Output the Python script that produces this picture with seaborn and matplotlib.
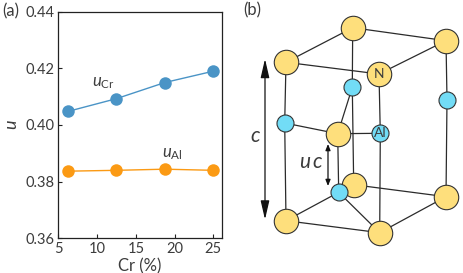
import matplotlib
matplotlib.use("Agg")
import matplotlib.pyplot as plt
import seaborn as sns
import pandas as pd

sns.set_theme(style="ticks")
FONT = 'Lato'
plt.rcParams['font.family'] = [FONT, 'DejaVu Sans']
plt.rcParams['mathtext.fontset'] = 'custom'
plt.rcParams['mathtext.it'] = f'{FONT}:italic'
plt.rcParams['mathtext.rm'] = FONT

W, H = 463, 273
TXT = '#3c3c3c'

cr = [6.25, 12.5, 18.75, 25]
u_cr = [0.4048, 0.4093, 0.4150, 0.4190]
u_al = [0.3837, 0.3840, 0.3844, 0.3840]
xticks = [5, 10, 15, 20, 25]
yticks = [0.36, 0.38, 0.40, 0.42, 0.44]

# Schematic atoms and bonds (image pixel space of the crystal panel)
n_x = [352.7, 446, 286, 379, 337.7, 353.7, 446, 286, 379.7]
n_y = [27.7, 40.7, 62.3, 74, 133.7, 184.7, 196.7, 220.7, 232.7]
al_x = [352.3, 447, 284.7, 380.3, 338.7]
al_y = [87.3, 99.7, 123, 133.3, 192.3]
bonds = [(0, 1), (0, 2), (2, 3), (1, 3), (5, 6), (7, 8), (6, 8)]
verticals = [((352.7,27.7),(352.3,87.3)),((352.3,87.3),(353.7,184.7)),
             ((446,40.7),(447,99.7)),((447,99.7),(446,196.7)),
             ((286,62.3),(284.7,123)),((284.7,123),(286,220.7)),
             ((379,74),(380.3,133.3)),((380.3,133.3),(379.7,232.7)),
             ((352.3,87.3),(337.7,133.7)),((284.7,123),(337.7,133.7)),
             ((337.7,133.7),(380.3,133.3)),((337.7,133.7),(338.7,192.3)),
             ((338.7,192.3),(286,220.7)),((338.7,192.3),(379.7,232.7))]

fig = plt.figure(figsize=(W/100, H/100), dpi=100, facecolor='white')

# Panel (a)
ax = fig.add_axes([58.3/W, 1-238.3/H, (221.7-58.3)/W, (238.3-11.7)/H])
df = pd.concat([pd.DataFrame({'Cr': cr, 'u': u_cr, 's': 'Cr'}),
                pd.DataFrame({'Cr': cr, 'u': u_al, 's': 'Al'})])
sns.lineplot(data=df, x='Cr', y='u', hue='s', hue_order=['Cr', 'Al'],
             palette=['#4a94c6', '#fb9a14'], marker='o', markersize=9,
             markeredgewidth=0, linewidth=1.0, legend=False, ax=ax)
ax.set_xlim(5, 26.08)
ax.set_ylim(0.36, 0.44)
ax.set_xticks(xticks)
ax.set_yticks(yticks)
ax.set_yticklabels([f'{v:.2f}' for v in yticks])
ax.tick_params(direction='in', length=3, width=0.8, labelsize=10.5, pad=3)
ax.tick_params(axis='x', colors='#222222', labelcolor=TXT)
ax.tick_params(axis='y', colors='#222222', labelcolor=TXT)
for s in ['left', 'bottom', 'top', 'right']:
    ax.spines[s].set_linewidth(0.9)
    ax.spines[s].set_color('#222222')
ax.set_xlabel('Cr (%)', fontsize=12, color=TXT, labelpad=1)
ax.set_ylabel('$u$', fontsize=13, color=TXT)
ax.yaxis.set_label_coords((20-58.3)/(221.7-58.3), 0.5)
ax.text(9.4, 0.4137, r'$u_{\mathrm{Cr}}$', fontsize=12, color=TXT)
ax.text(18.4, 0.3885, r'$u_{\mathrm{Al}}$', fontsize=12, color=TXT)
fig.text(2/W, 1-11.5/H, '(a)', fontsize=12, color=TXT, va='center')

# Panel (b)
bx = fig.add_axes([0, 0, 1, 1], facecolor='none')
bx.set_xlim(0, W)
bx.set_ylim(H, 0)
bx.axis('off')
fig.text(243.5/W, 1-10.5/H, '(b)', fontsize=12, color=TXT, va='center')
for i, j in bonds:
    bx.plot([n_x[i], n_x[j]], [n_y[i], n_y[j]], color='#2b2b2b', lw=0.9, zorder=1)
for a, b in verticals:
    bx.plot([a[0], b[0]], [a[1], b[1]], color='#2b2b2b', lw=0.9, zorder=1)
bx.scatter(n_x, n_y, s=310, color='#fedf7c', edgecolor='#333333', linewidth=0.8, zorder=2)
bx.scatter(al_x, al_y, s=150, color='#72dcf6', edgecolor='#333333', linewidth=0.8, zorder=3)
bx.text(379, 74, 'N', fontsize=10, ha='center', va='center', color=TXT, zorder=4)
bx.text(380.3, 133.3, 'Al', fontsize=10, ha='center', va='center', color=TXT, zorder=4)
bx.annotate('', xy=(265, 59), xytext=(265, 219.5),
            arrowprops=dict(arrowstyle='<|-|>,head_length=0.95,head_width=0.22', color='#111111', lw=0.9, shrinkA=0, shrinkB=0))
bx.annotate('', xy=(328, 144), xytext=(328, 186),
            arrowprops=dict(arrowstyle='<|-|>,head_length=0.3,head_width=0.12', color='#111111', lw=0.9, shrinkA=0, shrinkB=0))
bx.text(255.5, 136, '$c$', fontsize=15, ha='center', va='center', color=TXT)
bx.text(311, 162, '$u\\,c$', fontsize=15, ha='center', va='center', color=TXT)

fig.savefig('out.png', dpi=100)
